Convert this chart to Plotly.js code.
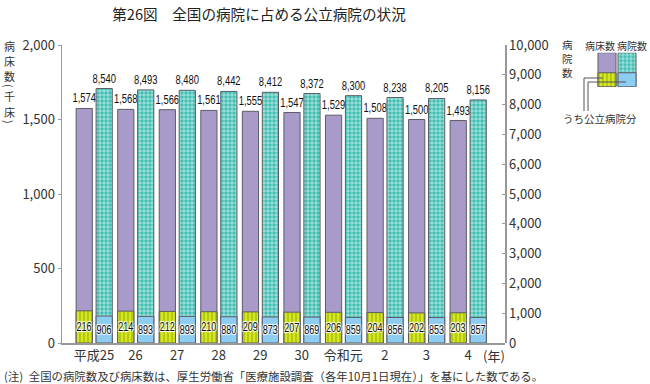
<!DOCTYPE html>
<html>
<head>
<meta charset="utf-8">
<script src="https://cdn.plot.ly/plotly-3.0.1.min.js"></script>
<style>html,body{margin:0;padding:0;background:#fff;}#chart{width:650px;height:384px;}</style>
</head>
<body>
<div id="chart"></div>
<script>
// ---- data ----
const years = ['平成25','26','27','28','29','30','令和元','2','3','4'];
const bedsTotal = [1574,1568,1566,1561,1555,1547,1529,1508,1500,1493];
const bedsPublic = [216,214,212,210,209,207,206,204,202,203];
const hospTotal = [8540,8493,8480,8442,8412,8372,8300,8238,8205,8156];
const hospPublic = [906,893,893,880,873,869,859,856,853,857];
const legendCats = ['病床数','病院数'];
const legendTotal = [1,1];
const legendPublic = [0.41,0.41];

// ---- geometry helpers ----
const W=650,H=384, L=62, R=5, T=45, B=41;
const PW=W-L-R, PH=H-T-B;
const px=x=>(x-L)/PW;
const py=y=>(H-B-y)/PH;

const JP='"Noto Sans CJK JP", "Noto Sans", sans-serif';
const NUM='"Liberation Sans", Arial, sans-serif';
const purple='#a99bc9', yg='#d6e524', teal='#3fbeb2', blue='#8dcdf1', edge='#5c5c66';
const halo='1px 1px 1px #fff, -1px -1px 1px #fff, 1px -1px 1px #fff, -1px 1px 1px #fff';

const BW=0.39, OFF_B=-0.43, OFF_H=0.05;
const lblFont={family:NUM,size:12.5,color:'#111'};

const traces=[
 {type:'bar', x:years, y:bedsTotal, xaxis:'x', yaxis:'y', width:BW, offset:OFF_B,
  marker:{color:purple, line:{color:edge,width:1}},
  text:bedsTotal.map(v=>v.toLocaleString('en-US')), textposition:'outside', cliponaxis:false, constraintext:'none', textangle:0,
  textfont:lblFont, hoverinfo:'skip', showlegend:false},
 {type:'bar', x:years, y:bedsPublic, xaxis:'x', yaxis:'y', width:BW, offset:OFF_B,
  marker:{color:yg, line:{color:edge,width:1}, pattern:{shape:'|', fgcolor:'#9db800', bgcolor:yg, size:4, solidity:0.3}},
  text:bedsPublic.map(String), textposition:'inside', insidetextanchor:'middle', constraintext:'none', textangle:0,
  textfont:Object.assign({},lblFont,{size:12,shadow:halo}), hoverinfo:'skip', showlegend:false},
 {type:'bar', x:years, y:hospTotal, xaxis:'x', yaxis:'y2', width:BW, offset:OFF_H,
  marker:{color:teal, line:{color:edge,width:1}, pattern:{shape:'+', fgcolor:'#ffffff', bgcolor:teal, size:4, solidity:0.25}},
  text:hospTotal.map(v=>v.toLocaleString('en-US')), textposition:'outside', cliponaxis:false, constraintext:'none', textangle:0,
  textfont:lblFont, hoverinfo:'skip', showlegend:false},
 {type:'bar', x:years, y:hospPublic, xaxis:'x', yaxis:'y2', width:BW, offset:OFF_H,
  marker:{color:blue, line:{color:edge,width:1}},
  text:hospPublic.map(String), textposition:'inside', insidetextanchor:'middle', constraintext:'none', textangle:0,
  textfont:Object.assign({},lblFont,{size:12,shadow:halo}), hoverinfo:'skip', showlegend:false},
 // legend swatches
 {type:'bar', x:[legendCats[0]], y:[legendTotal[0]], xaxis:'x3', yaxis:'y3', width:0.9,
  marker:{color:purple, line:{color:edge,width:1}}, hoverinfo:'skip', showlegend:false},
 {type:'bar', x:[legendCats[0]], y:[legendPublic[0]], xaxis:'x3', yaxis:'y3', width:0.9,
  marker:{color:yg, line:{color:edge,width:1}, pattern:{shape:'|', fgcolor:'#9db800', bgcolor:yg, size:4, solidity:0.3}}, hoverinfo:'skip', showlegend:false},
 {type:'bar', x:[legendCats[1]], y:[legendTotal[1]], xaxis:'x3', yaxis:'y3', width:0.9,
  marker:{color:teal, line:{color:edge,width:1}, pattern:{shape:'+', fgcolor:'#ffffff', bgcolor:teal, size:4, solidity:0.25}}, hoverinfo:'skip', showlegend:false},
 {type:'bar', x:[legendCats[1]], y:[legendPublic[1]], xaxis:'x3', yaxis:'y3', width:0.9,
  marker:{color:blue, line:{color:edge,width:1}}, hoverinfo:'skip', showlegend:false}
];

// vertical (tategaki) axis titles, one glyph per annotation
function vchar(ch, x, y, size, rot){
  return {text:ch, xref:'paper', yref:'paper', x:px(x), y:py(y), xanchor:'center', yanchor:'middle',
    showarrow:false, textangle:rot||0, borderpad:0, font:{family:JP,size:size,color:'#333'}};
}
const leftTitle=[['病',45.5],['床',60.5],['数',75.5],['(',86,90],['千',96.5],['床',111.5],[')',122,90]]
  .map(a=>vchar(a[0],9,a[1],11,a[2]));
const rightTitle=[['病',44.5],['院',58.3],['数',72.1]].map(a=>vchar(a[0],567,a[1],10.5));

const xEnd = px(505);
const layout={
 width:W, height:H, margin:{l:L,r:R,t:T,b:B},
 paper_bgcolor:'#fff', plot_bgcolor:'rgba(0,0,0,0)',
 barmode:'overlay',
 font:{family:JP, color:'#333'},
 title:{text:'第26図　全国の病院に占める公立病院の状況', font:{family:JP,size:14.6,color:'#222'}, x:259/W, xref:'container', xanchor:'center', y:1-15/H, yanchor:'middle', yref:'container'},
 xaxis:{domain:[0,xEnd], type:'category', range:[-0.77,9.89], showline:true, linecolor:'#999', linewidth:1.5,
   ticks:'', tickfont:{family:JP,size:13,color:'#333'}, showgrid:false, zeroline:false, fixedrange:true},
 yaxis:{range:[0,2000], tickvals:[0,500,1000,1500,2000], tickformat:',d', showline:true, linecolor:'#999', linewidth:1.5,
   ticks:'outside', ticklen:3, tickcolor:'#999', tickfont:{family:JP,size:13,color:'#333'}, showgrid:false, zeroline:false, anchor:'x'},
 yaxis2:{range:[0,10000], tickvals:[0,1000,2000,3000,4000,5000,6000,7000,8000,9000,10000], tickformat:',d',
   overlaying:'y', side:'right', anchor:'free', position:xEnd, showline:true, linecolor:'#999', linewidth:1.5,
   ticks:'inside', ticklen:3, tickcolor:'#999', tickfont:{family:JP,size:13,color:'#333'}, showgrid:false, zeroline:false},
 xaxis3:{domain:[px(597),px(637)], anchor:'y3', type:'category', range:[-0.5,1.5], visible:false, fixedrange:true},
 yaxis3:{domain:[py(86.7),py(52.7)], anchor:'x3', range:[0,1], visible:false, fixedrange:true},
 shapes:[
  {type:'path', xref:'paper', yref:'paper', path:`M ${px(584)} ${py(111)} L ${px(584)} ${py(78)} L ${px(603)} ${py(78)}`, line:{color:'#555',width:1}},
  {type:'path', xref:'paper', yref:'paper', path:`M ${px(588)} ${py(111)} L ${px(588)} ${py(82)} L ${px(626)} ${py(82)}`, line:{color:'#555',width:1}}
 ],
 annotations:[
  ...leftTitle, ...rightTitle,
  {text:'病床数', xref:'paper', yref:'paper', x:px(600), y:py(45), xanchor:'center', yanchor:'middle', showarrow:false, font:{family:JP,size:10,color:'#333'}},
  {text:'病院数', xref:'paper', yref:'paper', x:px(632), y:py(45), xanchor:'center', yanchor:'middle', showarrow:false, font:{family:JP,size:10,color:'#333'}},
  {text:'うち公立病院分', xref:'paper', yref:'paper', x:px(561), y:py(118), xanchor:'left', yanchor:'middle', showarrow:false, font:{family:JP,size:10.5,color:'#333'}},
  {text:'(年)', xref:'paper', yref:'paper', x:px(494), y:py(355), xanchor:'center', yanchor:'middle', showarrow:false, font:{family:JP,size:13,color:'#333'}},
  {text:'(注)\u2002全国の病院数及び病床数は、厚生労働省「医療施設調査（各年10月1日現在）」を基にした数である。', xref:'paper', yref:'paper', x:px(3), y:py(376), xanchor:'left', yanchor:'middle', showarrow:false, borderpad:0, font:{family:JP,size:11.4,color:'#333'}}
 ]
};
Plotly.newPlot('chart', traces, layout, {displayModeBar:false, staticPlot:true}).then(gd=>{
  // condense the bar value labels horizontally (the reference uses a narrow typeface)
  gd.querySelectorAll('.bartext text, text.bartext').forEach(t=>{
    const len=t.getComputedTextLength();
    if(len>0){ t.setAttribute('textLength', (len*0.75).toFixed(2)); t.setAttribute('lengthAdjust','spacingAndGlyphs'); }
  });
});
</script>
</body>
</html>
